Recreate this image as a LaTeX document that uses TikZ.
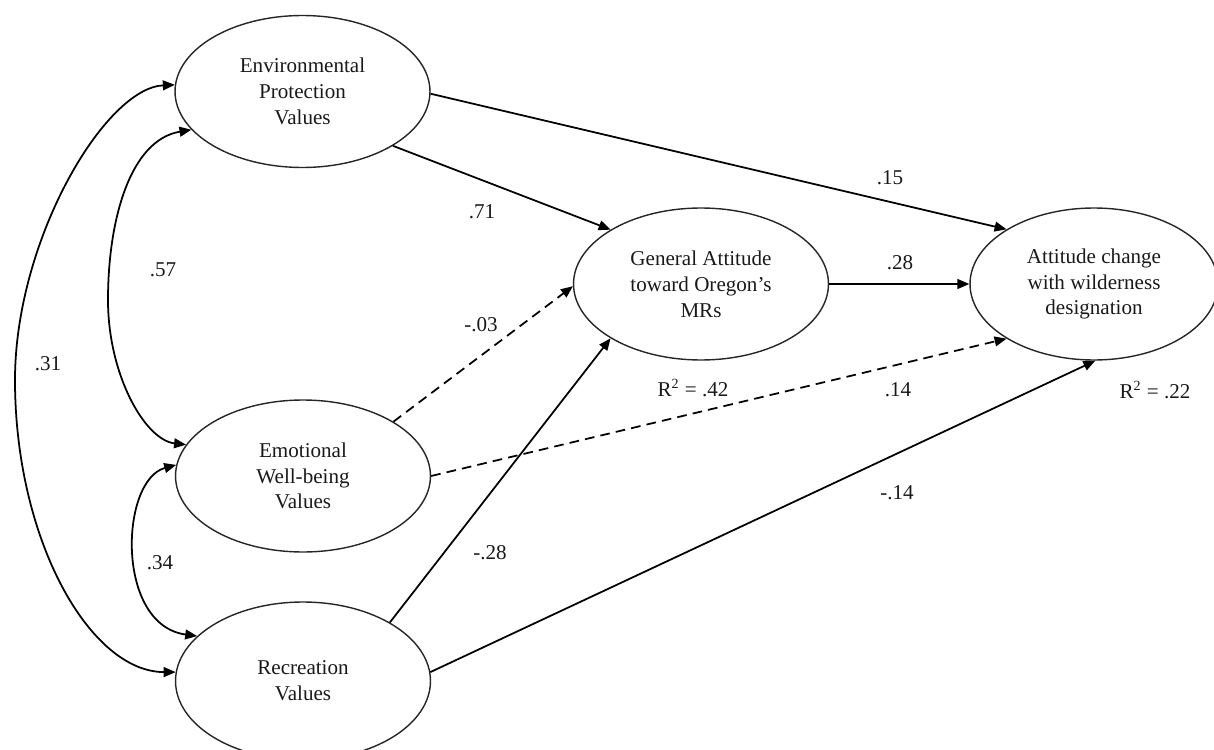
\documentclass[tikz,border=0pt]{standalone}
\usepackage{fontspec}
\setmainfont{Liberation Serif}
\usetikzlibrary{arrows.meta,shapes.geometric}
\begin{document}
\begin{tikzpicture}[x=0.02cm,y=-0.02cm,
  latent/.style={ellipse,draw=black!85,line width=0.8pt,minimum width=5.1cm,minimum height=3.04cm,inner sep=0pt,align=center,font=\fontsize{12}{14.7}\selectfont,text=black!90},
  tip/.tip={Triangle[length=6.8pt,width=5.6pt]},
  pathline/.style={line width=1pt,-tip},
  dashline/.style={pathline,dash pattern=on 5.5pt off 3.5pt},
  cov/.style={line width=1pt,tip-tip},
  coef/.style={font=\fontsize{12}{14.7}\selectfont,text=black!90,inner sep=1pt}]
\useasboundingbox (0,0) rectangle (1214,750);

% latent variables
\node[latent] (epv) at (302.5,91.5) {Environmental\\Protection\\Values};
\node[latent] (ewb) at (303,476) {Emotional\\Well-being\\Values};
\node[latent,minimum height=3.16cm] (rv) at (303,681) {Recreation\\Values};
\node[latent] (ga) at (701,284) {General Attitude\\toward Oregon's\\MRs};
\node[latent,minimum width=4.96cm] (ac) at (1094,284) {Attitude change\\with wilderness\\designation};

% covariances
\draw[cov] (epv.177) .. controls (105,88) and (15,240) .. (15,380) .. controls (15,540) and (90,672) .. (rv.176);
\draw[cov] (epv.199) .. controls (130,140) and (108,220) .. (108,300) .. controls (108,375) and (145,440) .. (ewb.165);
\draw[cov] (ewb.175) .. controls (120,480) and (115,625) .. (rv.157);

% paths
\draw[pathline] (epv.-1) -- (ac.148);
\draw[pathline] (epv.-31) -- (ga.149);
\draw[dashline] (ewb.31) -- (ga.181);
\draw[dashline] (ewb.0) -- (ac.212);
\draw[pathline] (rv.34) -- (ga.211);
\draw[pathline] (rv.4) -- (ac.271);
\draw[pathline] (ga.east) -- (ac.west);

% coefficients
\node[coef] (l57) at (163,270) {.57};
\node[coef] (l31) at (48,364) {.31};
\node[coef] (l34) at (160,563) {.34};
\node[coef] (l71) at (482,212) {.71};
\node[coef] (l03) at (481,325) {-.03};
\node[coef] (l28a) at (490,553) {-.28};
\node[coef] (l15) at (890,178) {.15};
\node[coef] (l28) at (900,263) {.28};
\node[coef] (l14) at (898,390) {.14};
\node[coef] (l14b) at (897,493) {-.14};
\node[coef] (r42) at (693,388) {R\textsuperscript{2} = .42};
\node[coef] (r22) at (1155,390) {R\textsuperscript{2} = .22};
\end{tikzpicture}
\end{document}
